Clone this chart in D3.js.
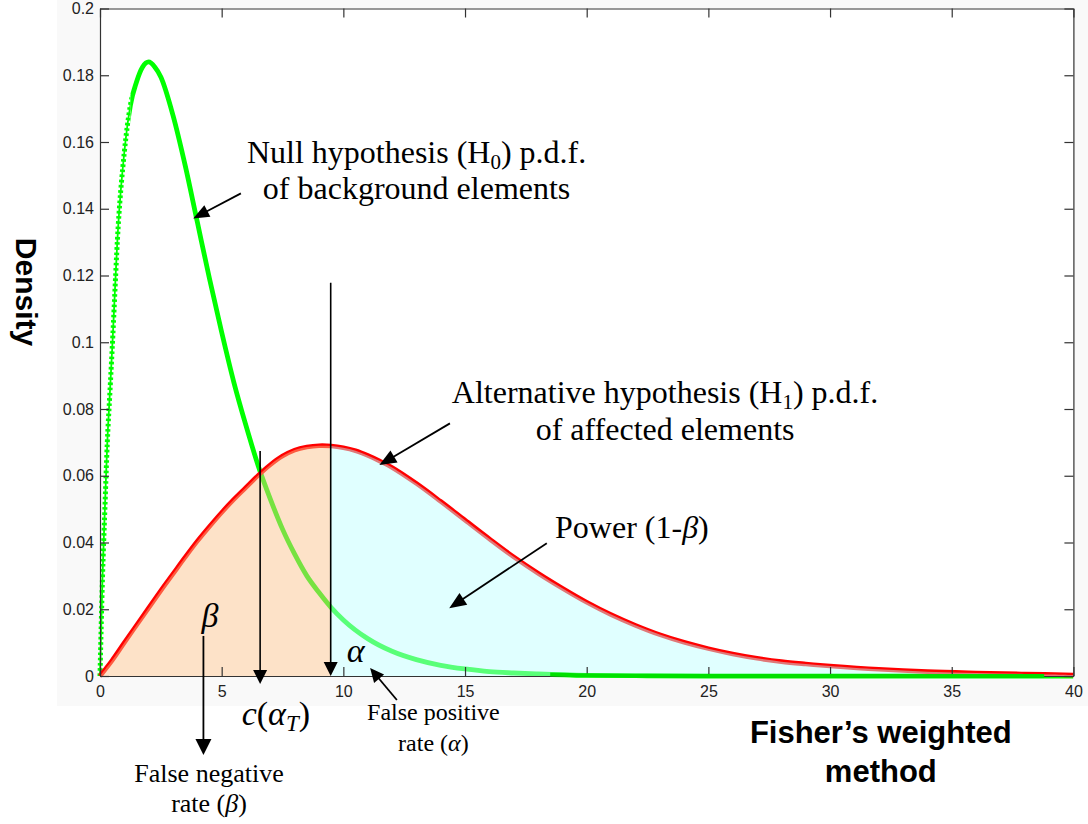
<!DOCTYPE html>
<html>
<head>
<meta charset="utf-8">
<script src="https://cdn.jsdelivr.net/npm/d3@7"></script>
<style>
  html, body { margin: 0; padding: 0; background: #ffffff; }
  svg { display: block; }
</style>
</head>
<body>
<svg id="chart" width="1088" height="824"></svg>
<script>
// H0: density of the combined statistic for background elements
const nullX = [0, 0.1, 0.2, 0.3, 0.4, 0.5, 0.75, 1, 1.25, 1.5, 1.75, 2, 2.25, 2.5, 3, 3.5, 4, 4.5, 5, 5.5, 6, 6.5, 7, 7.5, 8, 8.5, 9, 9.5, 10, 11, 12, 13, 14, 15, 16, 17, 18, 20, 22, 25, 30, 35, 40];
const nullDensity = [0, 0.029, 0.05, 0.07, 0.084, 0.098, 0.135, 0.157, 0.171, 0.178, 0.1825, 0.184, 0.1825, 0.1795, 0.168, 0.153, 0.136, 0.119, 0.103, 0.088, 0.075, 0.063, 0.053, 0.044, 0.0365, 0.030, 0.025, 0.0205, 0.0168, 0.0112, 0.0074, 0.0049, 0.0032, 0.0021, 0.0013, 0.0009, 0.0006, 0.0002, 0.0001, 0, 0, 0, 0];

// H1: density of the combined statistic for affected elements
const altX = [0, 0.5, 1, 1.5, 2, 2.5, 3, 3.5, 4, 4.5, 5, 5.5, 6, 6.5, 7, 7.5, 8, 8.5, 9, 9.5, 10, 10.5, 11, 11.5, 12, 13, 14, 15, 16, 17, 18, 19, 20, 21, 22, 23, 24, 25, 26, 27, 28, 29, 30, 32, 34, 36, 38, 40];
const altDensity = [0, 0.0047, 0.0100, 0.0152, 0.0204, 0.0256, 0.0306, 0.0356, 0.0404, 0.0448, 0.0490, 0.0529, 0.0565, 0.0601, 0.0633, 0.0659, 0.0677, 0.0686, 0.0690, 0.0689, 0.0684, 0.0675, 0.0661, 0.0644, 0.0625, 0.0577, 0.0523, 0.0467, 0.0411, 0.0357, 0.0308, 0.0263, 0.0221, 0.0184, 0.0152, 0.0124, 0.0101, 0.0082, 0.0066, 0.0053, 0.0043, 0.0036, 0.0030, 0.0020, 0.0013, 0.0009, 0.0006, 0.0003];

// Vertical markers: critical value c(alpha_T) and the beta / power split
const markerX = [6.58, 9.48];
const markerTop = [0.0674, 0.1178];

const xTicks = [0, 5, 10, 15, 20, 25, 30, 35, 40];
const yTicks = [0, 0.02, 0.04, 0.06, 0.08, 0.1, 0.12, 0.14, 0.16, 0.18, 0.2];
const yTickLabels = ["0", "0.02", "0.04", "0.06", "0.08", "0.1", "0.12", "0.14", "0.16", "0.18", "0.2"];

const W = 1088, H = 824;
const box = { left: 100, right: 1073.4, top: 8.5, bottom: 676 };

const x = d3.scaleLinear().domain([0, 40]).range([box.left, box.right]);
const y = d3.scaleLinear().domain([0, 0.2]).range([box.bottom, box.top]);

const svg = d3.select("#chart");
const defs = svg.append("defs");

const SERIF = "'Liberation Serif', 'Times New Roman', serif";
const SANS = "'Liberation Sans', Arial, sans-serif";

// figure / axes backgrounds
svg.append("rect").attr("x", 0).attr("y", 0).attr("width", W).attr("height", H).attr("fill", "#ffffff");
svg.append("rect").attr("x", 57).attr("y", 0).attr("width", W - 57).attr("height", 706).attr("fill", "#f9f9f9");
svg.append("rect").attr("x", box.left).attr("y", box.top)
  .attr("width", box.right - box.left).attr("height", box.bottom - box.top).attr("fill", "#ffffff");

// vertical strips used to split curves and areas by x range
function band(id, x0, x1) {
  defs.append("clipPath").attr("id", id).append("rect")
    .attr("x", x(x0)).attr("y", -50).attr("width", x(x1) - x(x0)).attr("height", H + 100);
  return `url(#${id})`;
}

const nullLine = d3.line().x((d, i) => x(nullX[i])).y(d => y(d)).curve(d3.curveMonotoneX);
const altCurve = d3.curveCatmullRom.alpha(0.5);
const altLine = d3.line().x((d, i) => x(altX[i])).y(d => y(d)).curve(altCurve);
const altArea = d3.area().x((d, i) => x(altX[i])).y0(y(0)).y1(d => y(d)).curve(altCurve);

const plot = svg.append("g");

// H0 curve: rising limb drawn as a beaded line, the rest as a thick line
const rise = plot.append("g").attr("clip-path", band("clipRise", -0.3, 1.25));
rise.append("path").attr("d", nullLine(nullDensity)).attr("fill", "none")
  .attr("stroke", "#00ff00").attr("stroke-width", 1.8);
rise.append("path").attr("d", nullLine(nullDensity)).attr("fill", "none")
  .attr("stroke", "#00ff00").attr("stroke-width", 5).attr("stroke-dasharray", "2.6 2.6");
plot.append("g").attr("clip-path", band("clipFall", 1.25, 40))
  .append("path").attr("d", nullLine(nullDensity)).attr("fill", "none")
  .attr("stroke", "#00ff00").attr("stroke-width", 4.8).attr("stroke-linejoin", "round");

// H1 curve
plot.append("path").attr("d", altLine(altDensity)).attr("fill", "none")
  .attr("stroke", "#ff0000").attr("stroke-width", 4.6).attr("stroke-linejoin", "round");

// translucent regions under H1: beta (left of split) and power (right of split)
plot.append("path").attr("d", altArea(altDensity)).attr("clip-path", band("clipBeta", 0, markerX[1]))
  .attr("fill", "rgb(251,193,138)").attr("fill-opacity", 0.47);
plot.append("path").attr("d", altArea(altDensity)).attr("clip-path", band("clipPower", markerX[1], 40))
  .attr("fill", "rgb(189,255,255)").attr("fill-opacity", 0.47);

// axes with inward ticks on all four sides
function styleAxis(g) {
  g.selectAll("path.domain").attr("stroke", "#333").attr("stroke-width", 1.2);
  g.selectAll(".tick line").attr("stroke", "#333").attr("stroke-width", 1.2);
  g.selectAll(".tick text").attr("fill", "#222").style("font-family", SANS).style("font-size", "16px");
}
svg.append("g").attr("transform", `translate(0,${box.bottom})`)
  .call(d3.axisBottom(x).tickValues(xTicks).tickSize(-9).tickSizeOuter(0).tickPadding(9.5).tickFormat(d3.format("d")))
  .call(styleAxis);
svg.append("g").attr("transform", `translate(0,${box.top})`)
  .call(d3.axisTop(x).tickValues(xTicks).tickSize(-9).tickSizeOuter(0).tickFormat(""))
  .call(styleAxis);
svg.append("g").attr("transform", `translate(${box.left},0)`)
  .call(d3.axisLeft(y).tickValues(yTicks).tickSize(-9).tickSizeOuter(0).tickPadding(6)
    .tickFormat((d, i) => yTickLabels[i]))
  .call(styleAxis);
svg.append("g").attr("transform", `translate(${box.right},0)`)
  .call(d3.axisRight(y).tickValues(yTicks).tickSize(-9).tickSizeOuter(0).tickFormat(""))
  .call(styleAxis);

// tail of H0 lying on the baseline
svg.append("g").attr("clip-path", band("clipTail", 18.5, 38.8))
  .append("path").attr("d", nullLine(nullDensity)).attr("fill", "none")
  .attr("stroke", "#00e000").attr("stroke-width", 4);

// arrows
const ann = svg.append("g");
function arrow(x1, y1, x2, y2, len, half, sw) {
  const dx = x2 - x1, dy = y2 - y1, L = Math.hypot(dx, dy);
  const ux = dx / L, uy = dy / L;
  const bx = x2 - ux * len, by = y2 - uy * len;
  ann.append("line").attr("x1", x1).attr("y1", y1).attr("x2", bx + ux).attr("y2", by + uy)
    .attr("stroke", "#000").attr("stroke-width", sw);
  ann.append("path")
    .attr("d", `M${x2},${y2}L${bx - uy * half},${by + ux * half}L${bx + uy * half},${by - ux * half}Z`)
    .attr("fill", "#000");
}

// vertical markers
arrow(x(markerX[0]), y(markerTop[0]), x(markerX[0]), y(-0.0024), 14, 7, 1.6);
arrow(x(markerX[1]), y(markerTop[1]), x(markerX[1]), y(0), 14, 7, 1.6);

// pointers
arrow(x(5.79), y(0.1446), x(3.83), y(0.1371), 16, 6.5, 1.8);
arrow(x(14.38), y(0.0757), x(11.48), y(0.0632), 17, 7, 1.8);
arrow(x(18.36), y(0.0398), x(14.35), y(0.0203), 17, 7, 1.8);
arrow(x(4.25), y(0.012), x(4.25), y(-0.0237), 16, 8, 1.8);
arrow(x(12.2), y(-0.0072), x(11.1), y(0.0024), 14, 6.5, 1.8);

// serif annotations
function serifText(px, py, size, anchor) {
  return ann.append("text").attr("x", px).attr("y", py)
    .attr("text-anchor", anchor).attr("fill", "#000")
    .style("font-family", SERIF).style("font-size", size + "px");
}

let t = serifText(x(13.01), y(0.1536), 32, "middle");
t.append("tspan").text("Null hypothesis (H");
t.append("tspan").attr("dy", 6).style("font-size", "21px").text("0");
t.append("tspan").attr("dy", -6).text(") p.d.f.");
serifText(x(13.01), y(0.1428), 32, "middle").text("of background elements");

t = serifText(x(23.22), y(0.0819), 32, "middle");
t.append("tspan").text("Alternative hypothesis (H");
t.append("tspan").attr("dy", 6).style("font-size", "21px").text("1");
t.append("tspan").attr("dy", -6).text(") p.d.f.");
serifText(x(23.22), y(0.0707), 32, "middle").text("of affected elements");

t = serifText(x(18.70), y(0.0413), 32, "start");
t.append("tspan").text("Power (1-");
t.append("tspan").style("font-style", "italic").text("\u03B2");
t.append("tspan").text(")");

serifText(x(4.52), y(0.0148), 34, "middle").style("font-style", "italic").text("\u03B2");
serifText(x(10.14), y(0.0043), 34, "start").style("font-style", "italic").text("\u03B1");

t = serifText(x(5.82), y(-0.0147), 34, "start");
t.append("tspan").style("font-style", "italic").text("c");
t.append("tspan").text("(");
t.append("tspan").style("font-style", "italic").text("\u03B1");
t.append("tspan").attr("dy", 6).style("font-style", "italic").style("font-size", "23px").text("T");
t.append("tspan").attr("dy", -6).text(")");

serifText(x(4.48), y(-0.0317), 26, "middle").text("False negative");
t = serifText(x(4.48), y(-0.0407), 26, "middle");
t.append("tspan").text("rate (");
t.append("tspan").style("font-style", "italic").text("\u03B2");
t.append("tspan").text(")");

serifText(x(13.7), y(-0.0133), 24, "middle").text("False positive");
t = serifText(x(13.7), y(-0.0225), 24, "middle");
t.append("tspan").text("rate (");
t.append("tspan").style("font-style", "italic").text("\u03B1");
t.append("tspan").text(")");

// axis titles
svg.append("text").attr("transform", "translate(16,292) rotate(90)")
  .attr("text-anchor", "middle").attr("fill", "#000")
  .style("font-family", SANS).style("font-weight", "bold").style("font-size", "30px")
  .text("Density");
svg.append("text").attr("x", 880.8).attr("y", 743.3).attr("text-anchor", "middle").attr("fill", "#000")
  .style("font-family", SANS).style("font-weight", "bold").style("font-size", "31px")
  .text("Fisher\u2019s weighted");
svg.append("text").attr("x", 880.8).attr("y", 781.7).attr("text-anchor", "middle").attr("fill", "#000")
  .style("font-family", SANS).style("font-weight", "bold").style("font-size", "31px")
  .text("method");
</script>
</body>
</html>
